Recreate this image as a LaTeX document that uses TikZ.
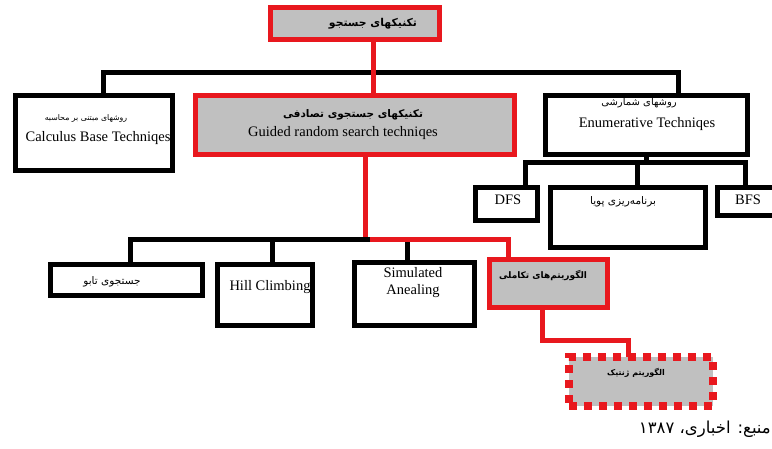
\documentclass[tikz,border=0pt]{standalone}
\usepackage{fontspec}
\setmainfont{Liberation Serif}
\newfontfamily\fa[Script=Arabic]{DejaVu Sans}
\TeXXeTstate=1
\definecolor{rd}{RGB}{232,24,30}
\definecolor{gf}{RGB}{192,192,192}
\begin{document}
\begin{tikzpicture}[x=1pt,y=-1pt,
  bbox/.style={draw=black,line width=5pt,fill=white,inner sep=0pt,outer sep=0pt},
  rbox/.style={draw=rd,line width=5pt,fill=gf,inner sep=0pt,outer sep=0pt},
  dbox/.style={draw=rd,line width=8pt,dash pattern=on 8pt off 7pt,fill=gf,inner sep=0pt,outer sep=0pt},
  bln/.style={draw=black,line width=5pt,line join=miter},
  rln/.style={draw=rd,line width=5pt,line join=miter},
  lat/.style={font=\fontsize{14.5}{17}\selectfont,inner sep=0pt,align=center},
  far/.style={font=\fa\fontsize{#1}{#1}\selectfont,inner sep=0pt},
  farb/.style={font=\fa\bfseries\fontsize{#1}{#1}\selectfont,inner sep=0pt},
  capt/.style={font=\fa\fontsize{16.5}{18}\selectfont,inner sep=0pt}]
\useasboundingbox (0,0) rectangle (772,448);

% boxes
\node[rbox,minimum width=169pt,minimum height=32pt] (top) at (355,23.5) {};
\node[bbox,minimum width=157pt,minimum height=75pt] (calc) at (94,133) {};
\node[rbox,minimum width=319pt,minimum height=59pt] (guided) at (355,125) {};
\node[bbox,minimum width=202pt,minimum height=59pt] (enum) at (646.5,125) {};
\node[bbox,minimum width=62pt,minimum height=33pt] (dfs) at (506.5,204) {};
\node[bbox,minimum width=155pt,minimum height=60pt] (prog) at (628,217.5) {};
\node[bbox,minimum width=58pt,minimum height=28pt] (bfs) at (746,201.5) {};
\node[bbox,minimum width=152pt,minimum height=31pt] (tabu) at (126.5,280) {};
\node[bbox,minimum width=95pt,minimum height=61pt] (hill) at (265,295) {};
\node[bbox,minimum width=120pt,minimum height=63pt] (sim) at (414.5,294) {};
\node[rbox,minimum width=118pt,minimum height=48pt] (algo) at (548.5,283.5) {};
\node[dbox,minimum width=144pt,minimum height=49pt] (gen) at (641,381.5) {};

% junction coordinates
\coordinate (j1) at (373,72);
\coordinate (h1L) at (103,72);
\coordinate (h1R) at (678,72);
\coordinate (h2L) at (525,162);
\coordinate (h2M) at (637,162);
\coordinate (h2R) at (745,162);
\coordinate (b2) at (130,239);
\coordinate (b3) at (272,239);
\coordinate (b4) at (407,239);
\coordinate (r2) at (365,239);
\coordinate (r3) at (508,239);
\coordinate (g1) at (542,340);
\coordinate (g2) at (628,340);

% connectors
\draw[bln] (calc.north -| h1L) -- (h1L) -- (h1R) -- (enum.north -| h1R);
\draw[rln] (top.south -| j1) -- (guided.north -| j1);
\draw[bln] (enum.south) -- (enum.south |- h2L);
\draw[bln] (dfs.north -| h2L) -- (h2L) -- (h2R) -- (bfs.north -| h2R);
\draw[bln] (h2M) -- (prog.north -| h2M);
\draw[bln] (tabu.north -| b2) -- (b2) -- ([xshift=5pt]r2);
\draw[bln] (b3) -- (hill.north -| b3);
\draw[bln] (b4) -- (sim.north -| b4);
\draw[rln] (guided.south -| r2) -- (r2) -- (r3) -- (algo.north -| r3);
\draw[bln] (b2) -- ([xshift=5pt]r2);
\draw[rln] (algo.south -| g1) -- (g1) -- (g2) -- (gen.north -| g2);

% texts
\node[farb=10.8] (ttop) at (373,24) {\beginR تکنیکهای جستجو\endR};
\node[far=7.8] (tcalc1) at (86,118) {\beginR روشهای مبتنی بر محاسبه\endR};
\node[lat] (tcalc2) at (98,138) {Calculus Base Techniqes};
\node[farb=10.5] (tguid1) at (353,115) {\beginR تکنیکهای جستجوی تصادفی\endR};
\node[lat] (tguid2) at (343,133) {Guided random search techniqes};
\node[far=10] (tenum1) at (639,103) {\beginR روشهای شمارشی\endR};
\node[lat] (tenum2) at (647,124) {Enumerative Techniqes};
\node[lat] (tdfs) at (508,200) {DFS};
\node[far=10.5] (tprog) at (623,202) {\beginR برنامه‌ریزی پویا\endR};
\node[lat] (tbfs) at (748,200) {BFS};
\node[far=10.5] (ttabu) at (112,282) {\beginR جستجوی تابو\endR};
\node[lat] (thill) at (270,287) {Hill Climbing};
\node[lat] (tsim) at (413,283) {Simulated\\Anealing};
\node[farb=9] (talgo) at (543,275) {\beginR الگوریتم‌های تکاملی\endR};
\node[farb=8] (tgen) at (636,373) {\beginR الگوریتم ژنتیک\endR};
\node[capt,anchor=base east] (cap) at (771,433) {\beginR منبع: اخباری، ۱۳۸۷\endR};
\end{tikzpicture}
\end{document}
